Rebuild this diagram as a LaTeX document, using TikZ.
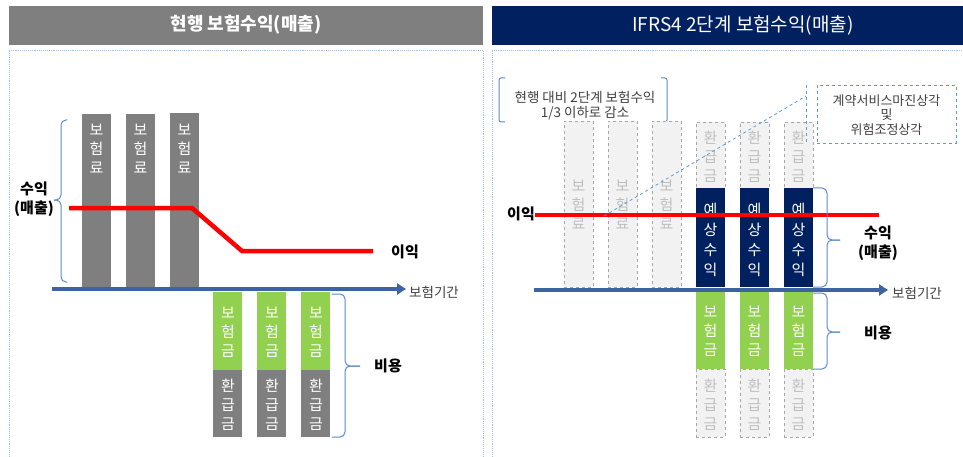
\documentclass[tikz,border=0pt]{standalone}
\usepackage{fontspec}
\setmainfont{Noto Sans CJK KR}
\usetikzlibrary{arrows.meta}
\definecolor{hgray}{HTML}{7F7F7F}
\definecolor{navy}{HTML}{002060}
\definecolor{lgreen}{HTML}{92D050}
\definecolor{axisblue}{HTML}{3C64A0}
\definecolor{frameblue}{HTML}{9DC3E6}
\definecolor{bracecol}{HTML}{5B8BC9}
\definecolor{ghostfill}{HTML}{F2F2F2}
\definecolor{ghostline}{HTML}{A6A6A6}
\definecolor{ghosttext}{HTML}{BFBFBF}
\definecolor{darktext}{HTML}{404040}
\definecolor{calloutblue}{HTML}{5B9BD5}
\begin{document}
\begin{tikzpicture}[x=1pt,y=-1pt,
  headerbox/.style={anchor=north west,inner sep=0pt,minimum height=39pt},
  headertext/.style={text=white,font=\fontsize{18}{20}\selectfont},
  frame/.style={draw=frameblue,densely dotted,line width=0.9pt},
  bar/.style={anchor=north west,inner sep=0pt,minimum width=29pt},
  graybar/.style={bar,fill=hgray},
  greenbar/.style={bar,fill=lgreen},
  navybar/.style={bar,fill=navy},
  ghostbar/.style={bar,fill=ghostfill,draw=ghostline,dashed,line width=0.7pt},
  vtext/.style={align=center,text=white,inner sep=0pt,font=\fontsize{15}{19}\selectfont},
  gvtext/.style={vtext,text=ghosttext},
  navytext/.style={vtext,font=\fontsize{15}{20}\selectfont},
  axis/.style={draw=axisblue,line width=4pt,-{Triangle[length=9pt,width=11pt]}},
  redline/.style={draw=red,line width=4.5pt},
  bracestyle/.style={draw=bracecol,line width=1pt,rounded corners=5pt},
  boldlabel/.style={font=\bfseries\fontsize{15}{19}\selectfont,align=center,inner sep=0pt},
  axislabel/.style={text=darktext,font=\fontsize{13.5}{15}\selectfont,anchor=west,inner sep=0pt},
  smalltext/.style={text=darktext,font=\fontsize{13.5}{15}\selectfont,align=center,inner sep=0pt},
  callout/.style={draw=calloutblue,dashed,line width=0.8pt}
]
\useasboundingbox (0,0) rectangle (963,457);
\clip (0,0) rectangle (963,457);

% headers
\node[headerbox,fill=hgray,minimum width=474pt] (hl) at (9,6) {};
\node[headertext,font=\bfseries\fontsize{18}{20}\selectfont] (hlt) at (246,25) {현행 보험수익(매출)};
\node[headerbox,fill=navy,minimum width=475pt] (hr) at (492,6) {};
\node[headertext,font=\fontsize{19}{21}\selectfont] (hrt) at (743,25) {IFRS4 2단계 보험수익(매출)};

% frames
\draw[frame] (9,470) -- (9,50) -- (483,50) -- (483,470);
\draw[frame] (492,470) -- (492,50) -- (970,50);

%%%%%%%% LEFT PANEL
% premium bars
\node[graybar,minimum height=173pt] (p1) at (82,114) {};
\node[graybar,minimum height=173pt] (p2) at (126,114) {};
\node[graybar,minimum height=174pt] (p3) at (170,113) {};
\node[vtext] (p1t) at (96.5,149) {보\\험\\료};
\node[vtext] (p2t) at (140.5,149) {보\\험\\료};
\node[vtext] (p3t) at (184.5,149) {보\\험\\료};

% claims / refund bars
\node[greenbar,minimum height=78pt] (g1) at (213,292) {};
\node[greenbar,minimum height=78pt] (g2) at (257,292) {};
\node[greenbar,minimum height=78pt] (g3) at (301,292) {};
\node[graybar,minimum height=67pt] (r1) at (213,370) {};
\node[graybar,minimum height=67pt] (r2) at (257,370) {};
\node[graybar,minimum height=67pt] (r3) at (301,370) {};
\node[vtext] (g1t) at (228,332) {보\\험\\금};
\node[vtext] (g2t) at (272,332) {보\\험\\금};
\node[vtext] (g3t) at (316,332) {보\\험\\금};
\node[vtext] (r1t) at (228,405) {환\\급\\금};
\node[vtext] (r2t) at (272,405) {환\\급\\금};
\node[vtext] (r3t) at (316,405) {환\\급\\금};

% axis
\coordinate (la0) at (52,289);
\coordinate (la1) at (406,289);
\draw[axis] (la0) -- (la1);
\node[axislabel] (lal) at (409,292) {보험기간};

% red line
\coordinate (lr0) at (69,208);
\coordinate (lr1) at (192,208);
\coordinate (lr2) at (242,251);
\coordinate (lr3) at (373,251);
\draw[redline] (lr0) -- (lr1) -- (lr2) -- (lr3);
\node[boldlabel,anchor=west] (lprofit) at (391,252) {이익};

% left revenue brace
\draw[bracestyle] (67,120) -- (61,120) -- (61,200) -- (54,200);
\draw[bracestyle] (67,282) -- (61,282) -- (61,200) -- (54,200);
\node[boldlabel] (lrev) at (34,199) {수익\\(매출)};

% left expense brace
\draw[bracestyle] (332,294) -- (345,294) -- (345,366) -- (360,366);
\draw[bracestyle] (332,437) -- (345,437) -- (345,366) -- (360,366);
\node[boldlabel,anchor=west] (lcost) at (374,366) {비용};

%%%%%%%% RIGHT PANEL
% bracket note
\draw[bracestyle,rounded corners=2pt] (505,78) -- (499,78) -- (499,122) -- (505,122);
\draw[bracestyle,rounded corners=2pt] (661,78) -- (667,78) -- (667,122) -- (661,122);
\node[smalltext] (note) at (585,106) {현행 대비 2단계 보험수익\\1/3 이하로 감소};

% ghost premium bars
\node[ghostbar,minimum height=166pt] (q1) at (564,121) {};
\node[ghostbar,minimum height=166pt] (q2) at (608,121) {};
\node[ghostbar,minimum height=166pt] (q3) at (652,121) {};
\node[gvtext] (q1t) at (578.5,205) {보\\험\\료};
\node[gvtext] (q2t) at (622.5,205) {보\\험\\료};
\node[gvtext] (q3t) at (666.5,205) {보\\험\\료};

% upper ghost refund bars
\node[ghostbar,minimum height=66pt] (u1) at (696,122) {};
\node[ghostbar,minimum height=66pt] (u2) at (740,122) {};
\node[ghostbar,minimum height=66pt] (u3) at (784,122) {};
\node[gvtext] (u1t) at (710.5,157) {환\\급\\금};
\node[gvtext] (u2t) at (754.5,157) {환\\급\\금};
\node[gvtext] (u3t) at (798.5,157) {환\\급\\금};

% expected revenue bars
\node[navybar,minimum height=99pt] (e1) at (696,188) {};
\node[navybar,minimum height=99pt] (e2) at (740,188) {};
\node[navybar,minimum height=99pt] (e3) at (784,188) {};
\node[navytext] (e1t) at (710.5,240) {예\\상\\수\\익};
\node[navytext] (e2t) at (754.5,240) {예\\상\\수\\익};
\node[navytext] (e3t) at (798.5,240) {예\\상\\수\\익};

% lower green claims bars
\node[greenbar,minimum height=77pt] (c1) at (696,292) {};
\node[greenbar,minimum height=77pt] (c2) at (740,292) {};
\node[greenbar,minimum height=77pt] (c3) at (784,292) {};
\node[vtext] (c1t) at (710.5,331) {보\\험\\금};
\node[vtext] (c2t) at (754.5,331) {보\\험\\금};
\node[vtext] (c3t) at (798.5,331) {보\\험\\금};

% lower ghost refund bars
\node[ghostbar,minimum height=68pt] (d1) at (696,369) {};
\node[ghostbar,minimum height=68pt] (d2) at (740,369) {};
\node[ghostbar,minimum height=68pt] (d3) at (784,369) {};
\node[gvtext] (d1t) at (710.5,405) {환\\급\\금};
\node[gvtext] (d2t) at (754.5,405) {환\\급\\금};
\node[gvtext] (d3t) at (798.5,405) {환\\급\\금};

% axis
\coordinate (ra0) at (534,290);
\coordinate (ra1) at (888,290);
\draw[axis] (ra0) -- (ra1);
\node[axislabel] (ral) at (892,293) {보험기간};

% red line
\coordinate (rr0) at (535,215);
\coordinate (rr1) at (879,215);
\draw[redline] (rr0) -- (rr1);
\node[boldlabel,anchor=east] (rprofit) at (535,214) {이익};

% callout
\node[callout,minimum width=139pt,minimum height=58pt,anchor=north west,inner sep=0pt] (cbox) at (817,85) {};
\node[smalltext,font=\fontsize{13}{14.5}\selectfont] (cboxt) at (886.5,115) {계약서비스마진상각\\및\\위험조정상각};
\coordinate (cl0) at (604,216);
\coordinate (cl1) at (806,96);
\coordinate (cv0) at (806,85);
\coordinate (cv1) at (806,142);
\draw[callout] (cl0) -- (cl1);
\draw[callout] (cv0) -- (cv1);

% right revenue brace
\draw[bracestyle] (813,188) -- (827,188) -- (827,240) -- (840,240);
\draw[bracestyle] (813,287) -- (827,287) -- (827,240) -- (840,240);
\node[boldlabel] (rrev) at (878,243) {수익\\(매출)};

% right expense brace
\draw[bracestyle] (813,293) -- (827,293) -- (827,332) -- (840,332);
\draw[bracestyle] (813,369) -- (827,369) -- (827,332) -- (840,332);
\node[boldlabel] (rcost) at (878,333) {비용};
\end{tikzpicture}
\end{document}
